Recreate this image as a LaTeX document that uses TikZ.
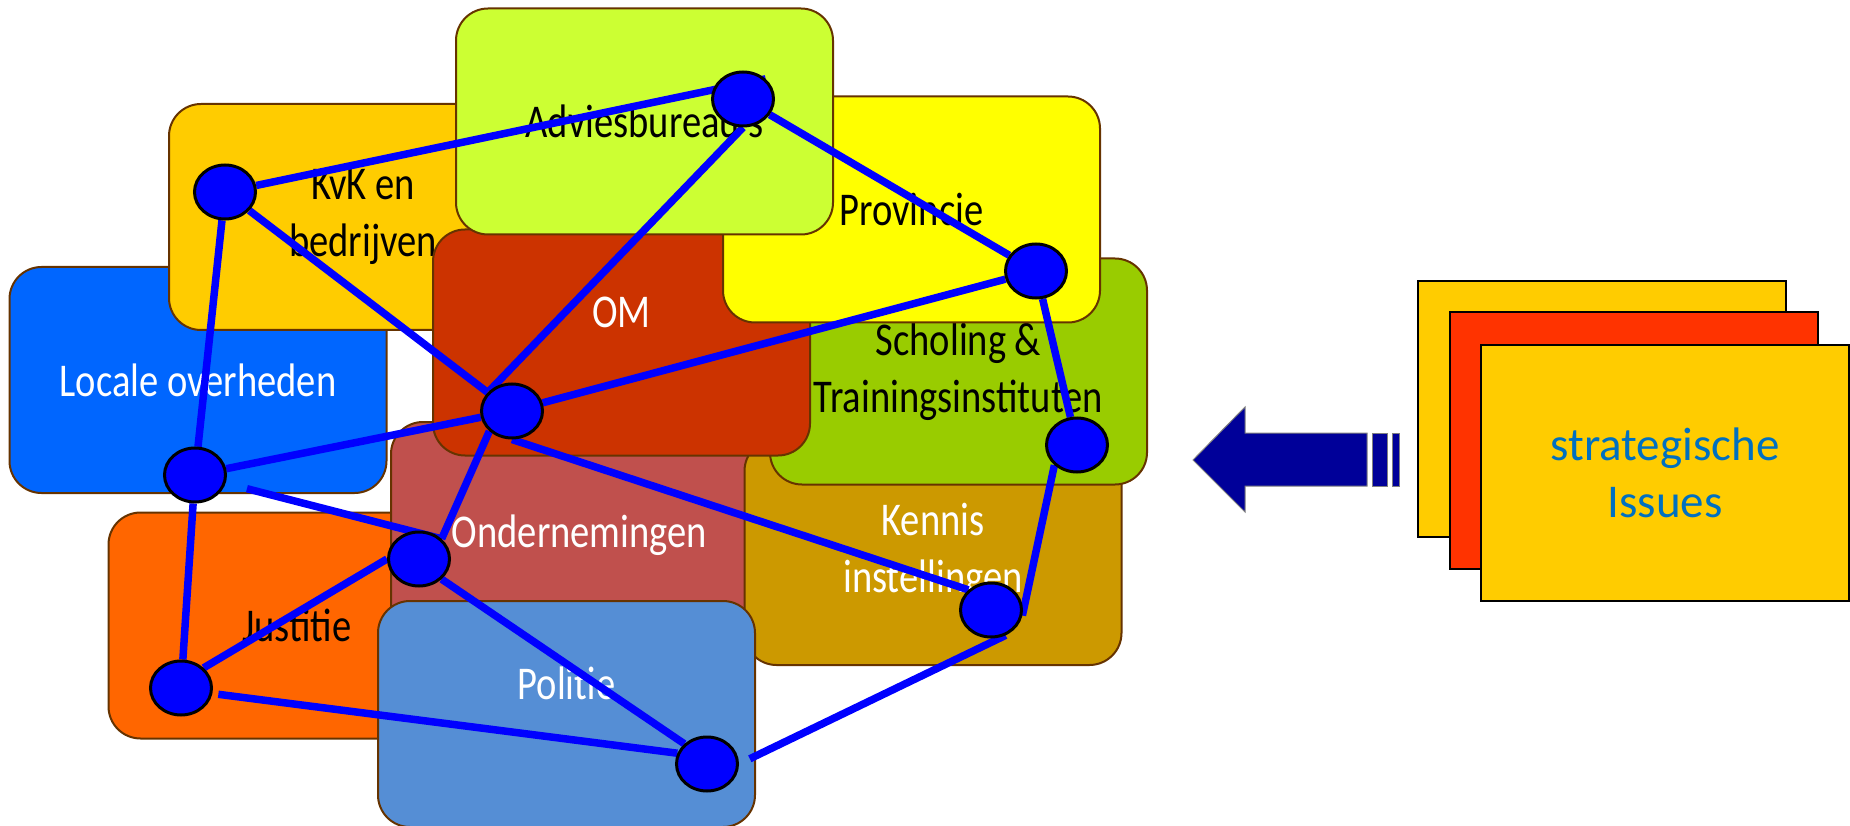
\documentclass[tikz,border=0pt]{standalone}
\usepackage{fontspec}
\setmainfont{Carlito}
\newfontfamily\boxfont[FakeStretch=0.82]{Carlito}
\usetikzlibrary{positioning, arrows.meta, shapes.geometric}

\definecolor{boxedge}{HTML}{663300}
\definecolor{locblue}{HTML}{0066FF}
\definecolor{kvkyellow}{HTML}{FFCC00}
\definecolor{advgreen}{HTML}{CCFF33}
\definecolor{provyellow}{HTML}{FFFF00}
\definecolor{omred}{HTML}{CC3300}
\definecolor{scholgreen}{HTML}{99CC00}
\definecolor{ondred}{HTML}{C0504D}
\definecolor{kennisgold}{HTML}{CC9900}
\definecolor{justorange}{HTML}{FF6600}
\definecolor{polblue}{HTML}{558ED5}
\definecolor{hubblue}{HTML}{0000FF}
\definecolor{cardyellow}{HTML}{FFCC00}
\definecolor{cardred}{HTML}{FF3300}
\definecolor{issueblue}{HTML}{0070C0}
\definecolor{arrownavy}{HTML}{000099}

\pgfdeclarelayer{boxes}
\pgfdeclarelayer{wires}
\pgfsetlayers{boxes,wires,main}

\begin{document}
\begin{tikzpicture}[x=1pt, y=-1pt,
    boxtext/.style={font=\boxfont\fontsize{47}{57}\selectfont, align=center},
    box/.style={draw=boxedge, line width=2pt, rounded corners=32pt, minimum width=377pt,
                minimum height=226pt, inner sep=0pt, boxtext},
    hub/.style={ellipse, draw=black, line width=3pt, fill=hubblue, minimum width=61pt,
                minimum height=54pt, inner sep=0pt},
    link/.style={draw=hubblue, line width=7.5pt},
    card/.style={draw=black, line width=2pt, minimum width=368pt, minimum height=256pt, inner sep=0pt},
    bigarrow/.style={fill=arrownavy, draw=gray, line width=1pt}]

    \useasboundingbox (0,0) rectangle (1850,826);

    % Organisation boxes, back to front
    \begin{pgfonlayer}{boxes}
    \node[box, fill=locblue, text=white] (locbox) at (198,380) {Locale overheden};
    \node[box, fill=kvkyellow, minimum width=388pt] (kvkbox) at (363,217) {KvK en\\bedrijven};
    \node[box, fill=justorange] (justbox) at (297,625.5) {Justitie};
    \node[box, fill=ondred, text=white] (ondbox) at (579.5,535) {Ondernemingen};
    \node[box, fill=kennisgold, text=white] (kenbox) at (933,552) {Kennis\\instellingen};
    \node[box, fill=scholgreen] (scholbox) at (958.5,371.5) {Scholing \&\\Trainingsinstituten};
    \node[box, fill=omred, label={[boxtext, white, yshift=30pt]center:OM}] (ombox) at (621.5,342.5) {};
    \node[box, fill=provyellow] (provbox) at (911.5,209.5) {Provincie};
    \node[box, fill=advgreen] (advbox) at (644.5,121.5) {Adviesbureau's};
    \node[box, fill=polblue, label={[boxtext, white, yshift=31pt]center:Politie}] (polbox) at (566.5,714) {};
    \end{pgfonlayer}

    % Network hubs
    \node[hub] (kvk) at (225,192) {};
    \node[hub] (adv) at (743,99) {};
    \node[hub] (prov) at (1036,271) {};
    \node[hub] (om) at (512,411) {};
    \node[hub] (loc) at (195,475) {};
    \node[hub] (schol) at (1077,445) {};
    \node[hub] (ond) at (419,559) {};
    \node[hub] (ken) at (991,610) {};
    \node[hub] (just) at (181,688) {};
    \node[hub] (pol) at (707,764) {};

    % Links
    \begin{pgfonlayer}{wires}
    \draw[link] (kvk) -- (adv.north east);
    \draw[link] (kvk) -- (om);
    \draw[link] (kvk) -- (loc);
    \draw[link] (adv.south) -- (om.north west);
    \draw[link] (adv) -- (prov);
    \draw[link] (prov) -- (om);
    \draw[link] (prov) -- (schol);
    \draw[link] (loc) -- (om);
    \draw[link, shorten <=22pt] (loc.-15) -- (ond.north east);
    \draw[link] (om.south west) -- (ond.north east);
    \draw[link] (om.south) -- (ken.north west);
    \draw[link] (loc) -- (just);
    \draw[link] (just.north east) -- (ond.west);
    \draw[link] (ond.south east) -- (pol.north west);
    \draw[link, shorten <=6pt] (just.-10) -- (pol.160);
    \draw[link, shorten <=12pt] (pol.east) -- (ken.-60);
    \draw[link] (schol.south west) -- (ken.-10);
    \end{pgfonlayer}

    % Striped arrow
    \draw[bigarrow] (1193,460) -- (1245,407) -- (1245,433) -- (1367,433) -- (1367,486)
        -- (1245,486) -- (1245,512) -- cycle;
    \draw[bigarrow] (1372,433) rectangle (1387,486);
    \draw[bigarrow] (1392,433) rectangle (1399,486);

    % Stack of issue cards
    \node[card, fill=cardyellow] (card1) at (1602,409) {};
    \node[card, fill=cardred] (card2) at (1634,440.5) {};
    \node[card, fill=cardyellow, text=issueblue, align=center,
          font=\fontsize{47}{57}\selectfont] (card3) at (1665,473) {strategische\\Issues};

\end{tikzpicture}
\end{document}
